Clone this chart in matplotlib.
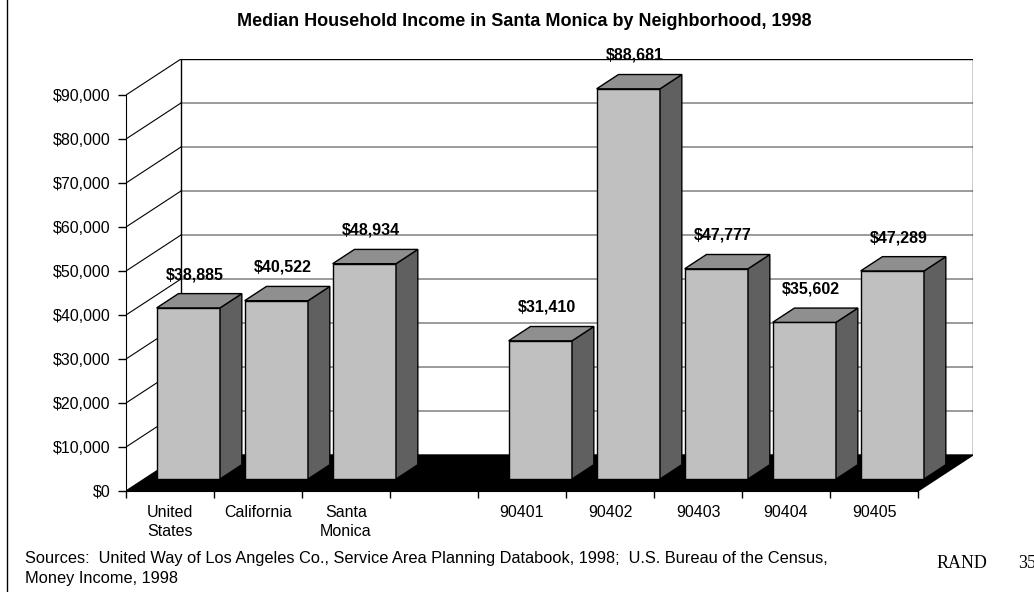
import matplotlib
matplotlib.use("Agg")
import matplotlib.pyplot as plt
import numpy as np
from matplotlib.patches import Polygon

plt.rcParams['font.family'] = ['Liberation Sans', 'DejaVu Sans']

# data (blank slot between the totals and the zip codes)
categories = ["United\nStates", "California", "Santa\nMonica", "",
              "90401", "90402", "90403", "90404", "90405"]
income = [38885, 40522, 48934, np.nan, 31410, 88681, 47777, 35602, 47289]
yticks = list(range(0, 90001, 10000))
ytick_labels = ["${:,}".format(v) for v in yticks]
title = "Median Household Income in Santa Monica by Neighborhood, 1998"

# fake 3d: depth offset of the back wall, in data units
DX = 0.625
DY = 8182
D0, D1 = 1 / 3, 0.73   # bar front / back depth fractions
BAR_W = 0.72
YMAX = 90000

FRONT = "#c0c0c0"
SIDE = "#606060"
TOP = "#8f8f8f"

fig = plt.figure(figsize=(10.34, 5.92), dpi=100)
W, H = 1034, 592
ax = fig.add_axes([126 / W, (H - 491) / H, (973 - 126) / W, (491 - 59) / H])
n = len(categories)
ax.set_xlim(0, n + DX)
ax.set_ylim(0, YMAX + DY)

# floor
ax.add_patch(Polygon([(0, 0), (n, 0), (n + DX, DY), (DX, DY)],
                     closed=True, facecolor="black", edgecolor="black", lw=1, zorder=1))

# back wall gridlines and side wall diagonals
for v in yticks[1:-1]:
    ax.plot([DX, n + DX], [v + DY, v + DY], color="#808080", lw=1.1, zorder=1.5)
for v in yticks[1:]:
    ax.plot([0, DX], [v, v + DY], color="black", lw=0.8, zorder=1.5)
ax.plot([DX, n + DX, n + DX], [YMAX + DY, YMAX + DY, DY], color="black", lw=1, zorder=1.5)
ax.plot([DX, DX], [DY, YMAX + DY], color="black", lw=1, zorder=1.5)

# bars
x = np.arange(n) + 0.5 + D0 * DX
vals = np.array(income, dtype=float)
mask = ~np.isnan(vals)
ax.bar(x[mask], vals[mask], bottom=D0 * DY, width=BAR_W, color=FRONT,
       edgecolor="black", lw=1, zorder=3)
dd = D1 - D0
for xc, v in zip(x[mask], vals[mask]):
    l, r = xc - BAR_W / 2, xc + BAR_W / 2
    b, t = D0 * DY, D0 * DY + v
    side = [(r, b), (r + dd * DX, b + dd * DY), (r + dd * DX, t + dd * DY), (r, t)]
    top = [(l, t), (r, t), (r + dd * DX, t + dd * DY), (l + dd * DX, t + dd * DY)]
    ax.add_patch(Polygon(side, closed=True, facecolor=SIDE, edgecolor="black", lw=1, zorder=3))
    ax.add_patch(Polygon(top, closed=True, facecolor=TOP, edgecolor="black", lw=1, zorder=3))
    ax.annotate("${:,.0f}".format(v), (xc, t), xytext=(5, 24), textcoords="offset points",
                ha="center", va="center", fontsize=11.5, fontweight="bold", zorder=4)

# axes
for s in ["top", "right"]:
    ax.spines[s].set_visible(False)
ax.spines["left"].set_bounds(0, YMAX)
ax.spines["bottom"].set_bounds(0, n)
ax.spines["left"].set_zorder(2)
ax.spines["bottom"].set_zorder(2)
ax.set_yticks(yticks)
ax.set_yticklabels(ytick_labels, fontsize=11.5)
ax.set_xticks(range(n + 1))
ax.set_xticklabels([""] * (n + 1))
ax.set_xticks(np.arange(n) + 0.5, minor=True)
ax.set_xticklabels(categories, minor=True, fontsize=11.5, linespacing=1.35)
ax.tick_params(axis="y", direction="out", length=6, width=1, pad=5)
ax.tick_params(axis="x", which="major", direction="out", length=5, width=1)
ax.tick_params(axis="x", which="minor", length=0, pad=10)
ax.patch.set_visible(False)

fig.text(524 / W, 1 - 21 / H, title, ha="center", va="center",
         fontsize=13, fontweight="bold")
fig.text(25 / W, 1 - 558 / H,
         "Sources:  United Way of Los Angeles Co., Service Area Planning Databook, 1998;  U.S. Bureau of the Census,",
         ha="left", va="center", fontsize=11.8)
fig.text(25 / W, 1 - 579 / H, "Money Income, 1998", ha="left", va="center", fontsize=11.8)
fig.text(937 / W, 1 - 564 / H, "RAND", ha="left", va="center", fontsize=13,
         family="Liberation Serif")
fig.text(1018 / W, 1 - 564 / H, "35", ha="left", va="center", fontsize=13,
         family="Liberation Serif")

# slide frame line on the left
fig.add_artist(plt.Line2D([7 / W, 7 / W], [0, 1], color="black", lw=1))

fig.savefig("out.png", dpi=100)
